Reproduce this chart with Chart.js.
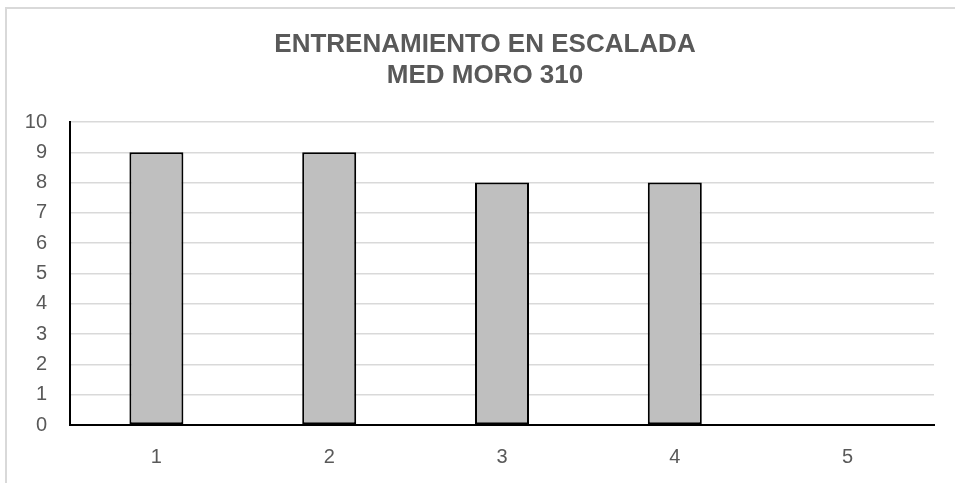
<!DOCTYPE html>
<html>
<head>
<meta charset="utf-8">
<script src="https://cdn.jsdelivr.net/npm/chart.js@4/dist/chart.umd.min.js"></script>
<style>
  html, body { margin: 0; padding: 0; background: #fff; overflow: hidden; }
  #frame {
    position: absolute; left: 5px; top: 7px; width: 1000px; height: 600px;
    border: 2px solid #d9d9d9; box-sizing: border-box;
  }
  #wrap { position: absolute; left: 0; top: 0; width: 955px; height: 483px; }
</style>
</head>
<body>
<div id="frame"></div>
<div id="wrap"><canvas id="trainingChart"></canvas></div>
<script>
  const titleLines = ['ENTRENAMIENTO EN ESCALADA', 'MED MORO 310'];
  const sessions = ['1', '2', '3', '4', '5'];
  const scores = [9, 9, 8, 8, 0];
  const yTicks = [0, 1, 2, 3, 4, 5, 6, 7, 8, 9, 10];

  const labelColor = '#595959';
  const tickFont = { family: 'Liberation Sans', size: 20 };

  // two-line heading, centred a little right of the canvas middle like the sheet title
  const headingPlugin = {
    id: 'heading',
    afterDraw(chart) {
      const ctx = chart.ctx;
      ctx.save();
      ctx.fillStyle = labelColor;
      ctx.font = 'bold 26px "Liberation Sans"';
      ctx.textAlign = 'center';
      ctx.textBaseline = 'middle';
      titleLines.forEach((line, i) => ctx.fillText(line, 485, 45 + i * 31));
      ctx.restore();
    }
  };

  new Chart(document.getElementById('trainingChart'), {
    type: 'bar',
    data: {
      labels: sessions,
      datasets: [{
        data: scores,
        backgroundColor: '#bfbfbf',
        borderColor: '#000000',
        borderWidth: 2,
        borderSkipped: false,
        barPercentage: 0.3125,
        categoryPercentage: 1
      }]
    },
    plugins: [headingPlugin],
    options: {
      responsive: true,
      maintainAspectRatio: false,
      animation: false,
      layout: { padding: { left: 0, right: 21, top: 122, bottom: 0 } },
      plugins: {
        legend: { display: false },
        tooltip: { enabled: false },
        title: { display: false }
      },
      scales: {
        x: {
          grid: { display: false, drawTicks: false },
          border: { color: '#000000', width: 2 },
          ticks: { color: labelColor, font: tickFont, padding: 20 },
          afterFit: (scale) => { scale.height = 58; }
        },
        y: {
          min: 0,
          max: 10,
          afterBuildTicks: (scale) => { scale.ticks = yTicks.map(v => ({ value: v })); },
          grid: { color: '#d9d9d9', lineWidth: 1.5, drawTicks: false },
          border: { color: '#000000', width: 2 },
          ticks: { color: labelColor, font: tickFont, padding: 23 },
          afterFit: (scale) => { scale.width = 70; }
        }
      }
    }
  });
</script>
</body>
</html>
